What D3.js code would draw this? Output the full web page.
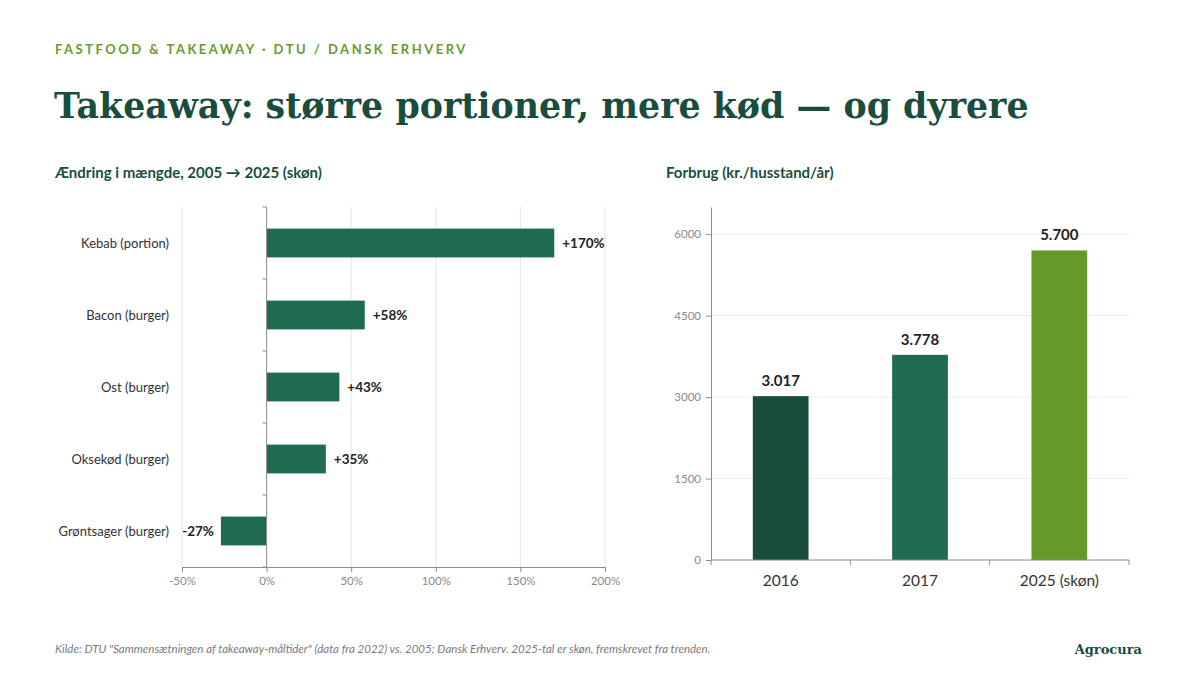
<!DOCTYPE html>
<html>
<head>
<meta charset="utf-8">
<script src="https://cdn.jsdelivr.net/npm/d3@7"></script>
<style>
  body { margin: 0; background: #fff; }
  svg { display: block; }
</style>
</head>
<body>
<svg id="chart" width="1200" height="675"></svg>
<script>
// change in quantity 2005 -> 2025
const items = ['Kebab (portion)', 'Bacon (burger)', 'Ost (burger)', 'Oksekød (burger)', 'Grøntsager (burger)'];
const changePct = [170, 58, 43, 35, -27];
const pctTicks = [-50, 0, 50, 100, 150, 200];

// spending per household per year
const years = ['2016', '2017', '2025 (skøn)'];
const spend = [3017, 3778, 5700];
const spendTicks = [0, 1500, 3000, 4500, 6000];
const spendColors = ['#1b4d3e', '#1e6b4f', '#659a29'];

const darkGreen = '#1b4d3e';
const barGreen = '#1e6b4f';
const sans = 'Lato, "Open Sans", sans-serif';
const serif = '"DejaVu Serif", Georgia, serif';

const svg = d3.select('#chart');

// header
svg.append('text')
  .attr('x', 55).attr('y', 54)
  .text('FASTFOOD & TAKEAWAY · DTU / DANSK ERHVERV')
  .style('font-family', sans).style('font-weight', 'bold')
  .style('font-size', '13px').style('letter-spacing', '2.5px')
  .style('fill', '#6a9a2e');

svg.append('text')
  .attr('x', 54).attr('y', 118)
  .text('Takeaway: større portioner, mere kød — og dyrere')
  .style('font-family', serif).style('font-weight', 'bold')
  .style('font-size', '34.8px').style('fill', darkGreen);

// ---------- left chart ----------
svg.append('text')
  .attr('x', 55).attr('y', 178)
  .text('Ændring i mængde, 2005 → 2025 (skøn)')
  .style('font-family', sans).style('font-weight', 'bold')
  .style('font-size', '15px').style('fill', darkGreen);

const xL = d3.scaleLinear().domain([-50, 200]).range([182, 605]);
const yL = d3.scaleBand().domain(items).range([207, 567]).paddingInner(0.6).paddingOuter(0.3);

const gL = svg.append('g');

gL.selectAll('.vgrid')
  .data(pctTicks.filter(d => d !== 0))
  .enter().append('line')
  .attr('x1', d => xL(d)).attr('x2', d => xL(d))
  .attr('y1', 207).attr('y2', 567)
  .attr('stroke', '#e6e6e6').attr('stroke-width', 1);

gL.selectAll('.bar')
  .data(changePct)
  .enter().append('rect')
  .attr('x', d => xL(Math.min(0, d)))
  .attr('width', d => Math.abs(xL(d) - xL(0)))
  .attr('y', (d, i) => yL(items[i]))
  .attr('height', yL.bandwidth())
  .attr('fill', barGreen);

gL.selectAll('.val')
  .data(changePct)
  .enter().append('text')
  .attr('x', d => d >= 0 ? xL(d) + 8 : xL(d) - 7)
  .attr('y', (d, i) => yL(items[i]) + yL.bandwidth() / 2)
  .attr('dy', '0.35em')
  .attr('text-anchor', d => d >= 0 ? 'start' : 'end')
  .text(d => (d > 0 ? '+' : '') + d + '%')
  .style('font-family', sans).style('font-weight', 'bold')
  .style('font-size', '13.5px').style('fill', '#222');

// category labels
gL.selectAll('.cat')
  .data(items)
  .enter().append('text')
  .attr('x', 169)
  .attr('y', d => yL(d) + yL.bandwidth() / 2)
  .attr('dy', '0.35em')
  .attr('text-anchor', 'end')
  .text(d => d)
  .style('font-family', sans).style('font-size', '13px').style('fill', '#333');

// zero axis with ticks between categories
const zeroAxis = gL.append('g');
zeroAxis.append('line')
  .attr('x1', xL(0)).attr('x2', xL(0)).attr('y1', 207).attr('y2', 567)
  .attr('stroke', '#8c8c8c');
zeroAxis.selectAll('.yt')
  .data(d3.range(items.length + 1))
  .enter().append('line')
  .attr('x1', xL(0) - 4).attr('x2', xL(0))
  .attr('y1', i => 207 + i * yL.step()).attr('y2', i => 207 + i * yL.step())
  .attr('stroke', '#8c8c8c');

const xAxisL = d3.axisBottom(xL).tickValues(pctTicks).tickFormat(d => d + '%').tickSizeOuter(0).tickSize(5);
gL.append('g')
  .attr('transform', 'translate(0,567)')
  .call(xAxisL)
  .call(g => g.select('.domain').attr('stroke', '#8c8c8c'))
  .call(g => g.selectAll('.tick line').attr('stroke', '#8c8c8c'))
  .call(g => g.selectAll('text').attr('y', 10)
    .style('font-family', sans).style('font-size', '11.5px').style('fill', '#8a8a8a'));

// ---------- right chart ----------
svg.append('text')
  .attr('x', 666).attr('y', 178)
  .text('Forbrug (kr./husstand/år)')
  .style('font-family', sans).style('font-weight', 'bold')
  .style('font-size', '15px').style('fill', darkGreen);

const xR = d3.scaleBand().domain(years).range([711, 1129]).paddingInner(0.6).paddingOuter(0.3);
const yR = d3.scaleLinear().domain([0, 6500]).range([560, 207]);

const gR = svg.append('g');

gR.selectAll('.hgrid')
  .data(spendTicks.filter(d => d > 0))
  .enter().append('line')
  .attr('x1', 711).attr('x2', 1129)
  .attr('y1', d => yR(d)).attr('y2', d => yR(d))
  .attr('stroke', '#ececf2').attr('stroke-width', 1);

gR.selectAll('.bar')
  .data(spend)
  .enter().append('rect')
  .attr('x', (d, i) => xR(years[i]))
  .attr('width', xR.bandwidth())
  .attr('y', d => yR(d))
  .attr('height', d => yR(0) - yR(d))
  .attr('fill', (d, i) => spendColors[i]);

const fmtDK = d3.formatLocale({ decimal: ',', thousands: '.', grouping: [3], currency: ['', ' kr.'] }).format(',');
gR.selectAll('.val')
  .data(spend)
  .enter().append('text')
  .attr('x', (d, i) => xR(years[i]) + xR.bandwidth() / 2)
  .attr('y', d => yR(d) - 10)
  .attr('text-anchor', 'middle')
  .text(d => fmtDK(d))
  .style('font-family', sans).style('font-weight', 'bold')
  .style('font-size', '15px').style('fill', '#222');

const yAxisR = d3.axisLeft(yR).tickValues(spendTicks).tickFormat(d3.format('d')).tickSize(5).tickSizeOuter(0);
gR.append('g')
  .attr('transform', 'translate(711,0)')
  .call(yAxisR)
  .call(g => g.select('.domain').attr('stroke', '#8c8c8c'))
  .call(g => g.selectAll('.tick line').attr('stroke', '#8c8c8c'))
  .call(g => g.selectAll('text').attr('x', -10)
    .style('font-family', sans).style('font-size', '11.5px').style('fill', '#8a8a8a'));

// bottom axis with ticks on band boundaries
const bottomR = gR.append('g').attr('transform', 'translate(0,560)');
bottomR.append('line').attr('x1', 711).attr('x2', 1129).attr('stroke', '#8c8c8c');
bottomR.selectAll('.bt')
  .data(d3.range(years.length + 1))
  .enter().append('line')
  .attr('x1', i => 711 + i * (1129 - 711) / years.length)
  .attr('x2', i => 711 + i * (1129 - 711) / years.length)
  .attr('y1', 0).attr('y2', 5)
  .attr('stroke', '#8c8c8c');
bottomR.selectAll('.lab')
  .data(years)
  .enter().append('text')
  .attr('x', d => xR(d) + xR.bandwidth() / 2)
  .attr('y', 26)
  .attr('text-anchor', 'middle')
  .text(d => d)
  .style('font-family', sans).style('font-size', '15.5px').style('fill', '#333');

// footer
svg.append('text')
  .attr('x', 55).attr('y', 653)
  .text('Kilde: DTU "Sammensætningen af takeaway-måltider" (data fra 2022) vs. 2005; Dansk Erhverv. 2025-tal er skøn, fremskrevet fra trenden.')
  .style('font-family', sans).style('font-style', 'italic')
  .style('font-size', '11.5px').style('fill', '#7a7a7a');

svg.append('text')
  .attr('x', 1142).attr('y', 654)
  .attr('text-anchor', 'end')
  .text('Agrocura')
  .style('font-family', serif).style('font-weight', 'bold')
  .style('font-size', '13px').style('fill', darkGreen);
</script>
</body>
</html>
